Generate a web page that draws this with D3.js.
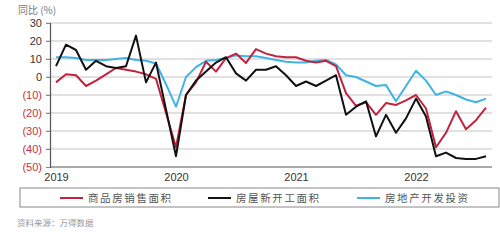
<!DOCTYPE html>
<html>
<head>
<meta charset="utf-8">
<script src="https://cdn.jsdelivr.net/npm/d3@7"></script>
<style>
  html, body { margin: 0; padding: 0; background: #fff; }
  svg { display: block; }
  text { font-family: "Liberation Sans", Arial, sans-serif; }
  .cjk { font-family: "Noto Sans CJK SC", sans-serif; }
</style>
</head>
<body>
<svg id="chart" width="500" height="248"></svg>
<script>
// ---- data (monthly, Jan 2019 – Aug 2022), YoY %
const yearLabels = ["2019", "2020", "2021", "2022"];
const yearLabelIndex = [0, 12, 24, 36];
const yTicks = [30, 20, 10, 0, -10, -20, -30, -40, -50];
const seriesNames = ["商品房销售面积", "房屋新开工面积", "房地产开发投资"];
const salesArea = [-3, 1.5, 1, -5, -2, 1.5, 5, 4, 3, 1.5, -1, -20,
  -39, -10, -3, 8.5, 3, 10.5, 13, 7.8, 15.5, 13, 11.5, 11,
  11, 9, 8, 9, 6, -9, -16, -14, -21, -14.5, -15.5, -13,
  -10, -17.5, -39, -31, -19, -29, -24, -17];
const newStarts = [6, 18, 15, 4, 9, 6, 5, 6, 23, -3, 8, -18,
  -44, -10, -2, 3, 8, 11, 2, -2, 4, 4, 6, 1,
  -5, -2.5, -5, -2, 1, -21, -16.5, -13.5, -33, -21, -31, -23,
  -12, -22, -44, -42, -45, -45.5, -45.5, -44];
const investment = [11, 11, 10.5, 9.5, 9.5, 9.5, 10, 10.5, 9.5, 9, 7.5, -4,
  -16.5, 0, 5.5, 9, 9.5, 10.5, 12, 11.5, 11.5, 10.5, 9.5, 8.5,
  8, 8, 9, 9.5, 7, 1, 0, -2.5, -5, -4.5, -13.5, -5,
  3.5, -2, -10, -8, -10, -12.5, -14, -12];
const seriesColors = ["#c1233f", "#111111", "#3fb4e4"];

const svg = d3.select("#chart");
const x = d3.scaleLinear().domain([0, salesArea.length - 1]).range([56, 486]);
const y = d3.scaleLinear().domain([-50, 30]).range([167, 23]);
const plotLeft = 50, plotRight = 492;

// title
svg.append("text").attr("class", "cjk").attr("x", 18).attr("y", 14)
  .attr("font-size", 10).attr("fill", "#777").text("同比 (%)");

// gridlines
svg.append("g").selectAll("line").data(yTicks.filter(d => d !== -50)).join("line")
  .attr("x1", plotLeft - 4).attr("x2", plotRight)
  .attr("y1", d => y(d)).attr("y2", d => y(d))
  .attr("stroke", "#c4c4c4").attr("stroke-width", 1.2);

// y axis
const yAxis = d3.axisLeft(y).tickValues(yTicks).tickSize(4).tickPadding(4)
  .tickFormat(d => d < 0 ? "(" + Math.abs(d) + ")" : d);
const yg = svg.append("g").attr("transform", `translate(${plotLeft},0)`).call(yAxis);
yg.select(".domain").attr("stroke", "#555").attr("stroke-width", 1.2);
yg.selectAll(".tick line").attr("stroke", "#888");
yg.selectAll(".tick text").attr("font-size", 11)
  .attr("font-family", "Liberation Sans, Arial, sans-serif")
  .attr("fill", d => d < 0 ? "#c8303f" : "#333");

// x axis
const xAxis = d3.axisBottom(x).tickValues(yearLabelIndex)
  .tickFormat((d, i) => yearLabels[i]).tickSize(0).tickPadding(6);
const xg = svg.append("g").attr("transform", `translate(0,${y(-50)})`).call(xAxis);
xg.select(".domain").attr("stroke", "#555").attr("stroke-width", 1.2)
  .attr("d", `M${plotLeft},0H${plotRight}`);
xg.selectAll(".tick text").attr("font-size", 11)
  .attr("font-family", "Liberation Sans, Arial, sans-serif").attr("fill", "#333");

// lines
const line = d3.line().x((d, i) => x(i)).y(d => y(d));
[investment, salesArea, newStarts].forEach((s) => {
  const idx = s === salesArea ? 0 : s === newStarts ? 1 : 2;
  svg.append("path").datum(s).attr("d", line)
    .attr("fill", "none").attr("stroke", seriesColors[idx])
    .attr("stroke-width", 2).attr("stroke-linejoin", "round");
});

// legend
svg.append("rect").attr("x", 20).attr("y", 188).attr("width", 479).attr("height", 19)
  .attr("fill", "none").attr("stroke", "#888").attr("stroke-width", 1);
const legendX = [60, 208, 357];
seriesNames.forEach((n, i) => {
  svg.append("line").attr("x1", legendX[i]).attr("x2", legendX[i] + 23)
    .attr("y1", 198).attr("y2", 198).attr("stroke", seriesColors[i]).attr("stroke-width", 2);
  svg.append("text").attr("class", "cjk").attr("x", legendX[i] + 28).attr("y", 202)
    .attr("font-size", 10.5).attr("letter-spacing", 1.6).attr("fill", "#555").text(n);
});

// source
svg.append("text").attr("class", "cjk").attr("x", 17).attr("y", 226)
  .attr("font-size", 8.5).attr("fill", "#999").text("资料来源：万得数据");
</script>
</body>
</html>
